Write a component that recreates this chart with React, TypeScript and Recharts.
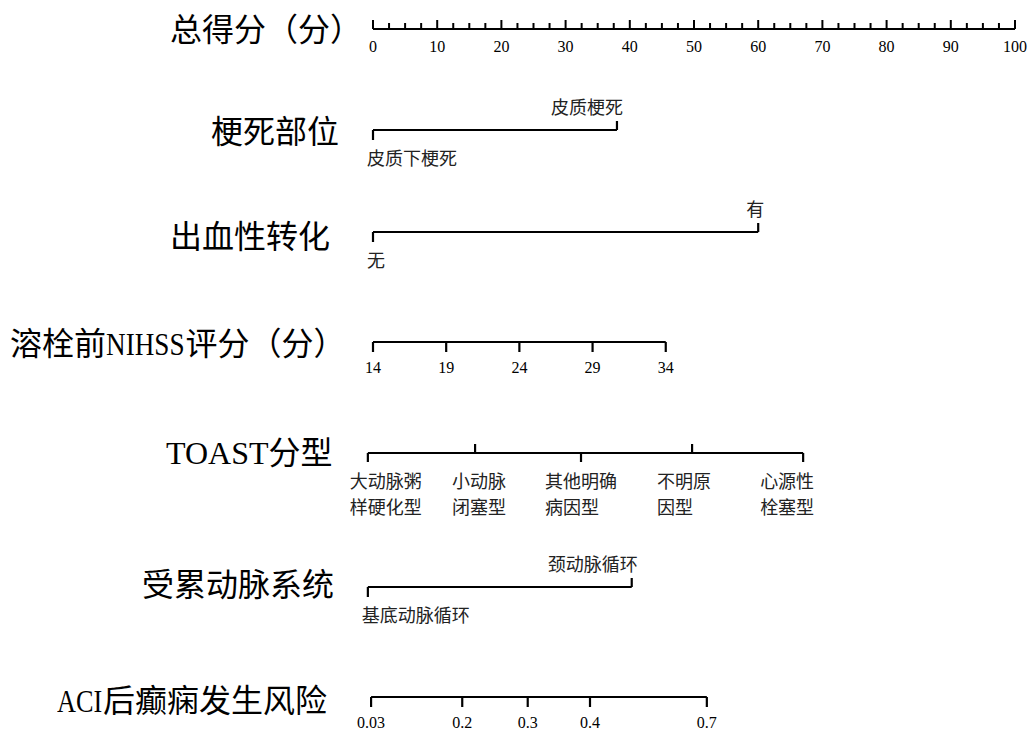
import React from 'react';
import { ComposedChart, Scatter, XAxis, YAxis } from 'recharts';

// 总得分 axis
const pointTicks = [
  0, 2.5, 5, 7.5, 10, 12.5, 15, 17.5, 20, 22.5, 25, 27.5, 30, 32.5, 35, 37.5, 40,
  42.5, 45, 47.5, 50, 52.5, 55, 57.5, 60, 62.5, 65, 67.5, 70, 72.5, 75, 77.5, 80,
  82.5, 85, 87.5, 90, 92.5, 95, 97.5, 100
];
const pointLabels = [0, 10, 20, 30, 40, 50, 60, 70, 80, 90, 100];

// 梗死部位
const infarctLabels = ['皮质下梗死', '皮质梗死'];
const infarctPoints = [0, 38];

// 出血性转化
const hemorrhageLabels = ['无', '有'];
const hemorrhagePoints = [0, 60];

// 溶栓前NIHSS评分
const nihssLabels = ['14', '19', '24', '29', '34'];
const nihssPoints = [0, 11.4, 22.8, 34.2, 45.6];

// TOAST分型
const toastLabels = [
  ['大动脉粥', '样硬化型'],
  ['小动脉', '闭塞型'],
  ['其他明确', '病因型'],
  ['不明原', '因型'],
  ['心源性', '栓塞型']
];
const toastPoints = [-0.8, 15.9, 32.4, 49.7, 67];

// 受累动脉系统
const arteryLabels = ['基底动脉循环', '颈动脉循环'];
const arteryPoints = [-0.8, 40.3];

// ACI后癫痫发生风险
const riskLabels = ['0.03', '0.2', '0.3', '0.4', '0.7'];
const riskPoints = [-0.3, 13.9, 24.1, 33.8, 52];

const rowTitles = [
  '总得分（分）',
  '梗死部位',
  '出血性转化',
  '溶栓前NIHSS评分（分）',
  'TOAST分型',
  '受累动脉系统',
  'ACI后癫痫发生风险'
];

// layout
const ROW_Y = [29, 130, 232, 342, 453, 587, 697];
const TITLE_LEFT = [170, 211, 170, 10, 166, 142, 57];
const TITLE_Y = [30, 132, 237, 344, 453, 585, 701];
const TITLE_LATIN = [
  null,
  null,
  null,
  { scale: 0.85, shrink: 13 },
  null,
  null,
  { scale: 0.82, shrink: 9 }
];
const TOAST_DX = [-18, -23, -36, -35, -43];

const NUM_FONT = "'Liberation Serif', 'Times New Roman', serif";
const CJK_FONT = "'Noto Sans CJK SC', sans-serif";
const TITLE_FONT = "'Liberation Serif', 'Noto Sans CJK SC', serif";
const INK = '#000';
const LABEL_INK = '#222';

const lineStyle = { stroke: INK, strokeWidth: 2.2 };

const rowData = (row: number, points: number[], labels: any[]) =>
  points.map((x, i) => ({ x, y: ROW_Y[row], i, label: labels[i] }));

const pointsData = pointTicks.map((x) => ({
  x,
  y: ROW_Y[0],
  label: pointLabels.includes(x) ? String(x) : ''
}));

const PointsTick = (props: any) => {
  const { cx, cy, payload } = props;
  const major = payload.label !== '';
  return (
    <g>
      <line x1={cx} x2={cx} y1={cy} y2={cy - (major ? 9 : 6)} stroke={INK} strokeWidth={2} />
      {major && (
        <text x={cx} y={cy + 17} textAnchor="middle" dominantBaseline="central"
          fontFamily={NUM_FONT} fontSize={16} fill={INK}>
          {payload.label}
        </text>
      )}
    </g>
  );
};

const BinaryTick = (props: any) => {
  const { cx, cy, payload } = props;
  const first = payload.i === 0;
  return (
    <g>
      <line x1={cx} x2={cx} y1={cy} y2={first ? cy + 10 : cy - 9} stroke={INK} strokeWidth={2.2} />
      <text
        x={first ? cx - 6 : cx + 6}
        y={first ? cy + 27 : cy - 24}
        textAnchor={first ? 'start' : 'end'}
        dominantBaseline="central"
        fontFamily={CJK_FONT}
        fontSize={18}
        fill={LABEL_INK}
      >
        {payload.label}
      </text>
    </g>
  );
};

const NumberTick = (props: any) => {
  const { cx, cy, payload } = props;
  return (
    <g>
      <line x1={cx} x2={cx} y1={cy} y2={cy + 10} stroke={INK} strokeWidth={2.2} />
      <text x={cx} y={cy + 25} textAnchor="middle" dominantBaseline="central"
        fontFamily={NUM_FONT} fontSize={16} fill={INK}>
        {payload.label}
      </text>
    </g>
  );
};

const ToastTick = (props: any) => {
  const { cx, cy, payload } = props;
  const up = payload.i % 2 === 1;
  const [l1, l2] = payload.label;
  const tx = cx + TOAST_DX[payload.i];
  return (
    <g>
      <line x1={cx} x2={cx} y1={cy} y2={up ? cy - 9 : cy + 9} stroke={INK} strokeWidth={2.2} />
      <text x={tx} y={cy + 27} dominantBaseline="central" fontFamily={CJK_FONT} fontSize={18} fill={LABEL_INK}>
        {l1}
      </text>
      <text x={tx} y={cy + 53} dominantBaseline="central" fontFamily={CJK_FONT} fontSize={18} fill={LABEL_INK}>
        {l2}
      </text>
    </g>
  );
};

const Title = ({ text, row }: { text: string; row: number }) => {
  const parts = text.split(/([A-Za-z]+)/);
  const latin = TITLE_LATIN[row];
  return (
    <div
      style={{
        position: 'absolute',
        left: TITLE_LEFT[row],
        top: TITLE_Y[row] - 20,
        height: 40,
        lineHeight: '40px',
        fontSize: 32,
        fontFamily: TITLE_FONT,
        color: INK,
        whiteSpace: 'nowrap'
      }}
    >
      {parts.map((p, k) =>
        /^[A-Za-z]+$/.test(p) && latin ? (
          <span
            key={k}
            style={{
              display: 'inline-block',
              transform: `scaleX(${latin.scale})`,
              transformOrigin: 'left center',
              marginRight: -latin.shrink
            }}
          >
            {p}
          </span>
        ) : (
          <span key={k}>{p}</span>
        )
      )}
    </div>
  );
};

export default function App() {
  return (
    <div style={{ position: 'absolute', left: 0, top: 0, width: 1029, height: 732, background: '#fff' }}>
      <ComposedChart
        width={1029}
        height={732}
        margin={{ top: 0, right: 14, bottom: 0, left: 340.9 }}
      >
        <XAxis type="number" dataKey="x" domain={[-5, 100]} hide />
        <YAxis type="number" dataKey="y" domain={[0, 732]} reversed hide />
        <Scatter data={pointsData} line={lineStyle} shape={PointsTick} isAnimationActive={false} />
        <Scatter data={rowData(1, infarctPoints, infarctLabels)} line={lineStyle} shape={BinaryTick} isAnimationActive={false} />
        <Scatter data={rowData(2, hemorrhagePoints, hemorrhageLabels)} line={lineStyle} shape={BinaryTick} isAnimationActive={false} />
        <Scatter data={rowData(3, nihssPoints, nihssLabels)} line={lineStyle} shape={NumberTick} isAnimationActive={false} />
        <Scatter data={rowData(4, toastPoints, toastLabels)} line={lineStyle} shape={ToastTick} isAnimationActive={false} />
        <Scatter data={rowData(5, arteryPoints, arteryLabels)} line={lineStyle} shape={BinaryTick} isAnimationActive={false} />
        <Scatter data={rowData(6, riskPoints, riskLabels)} line={lineStyle} shape={NumberTick} isAnimationActive={false} />
      </ComposedChart>
      {rowTitles.map((t, row) => (
        <Title key={row} text={t} row={row} />
      ))}
    </div>
  );
}
